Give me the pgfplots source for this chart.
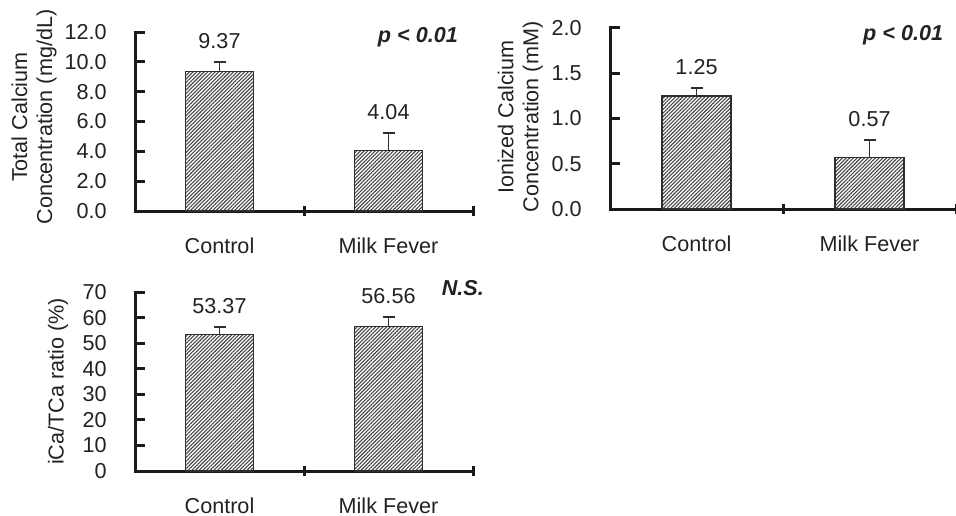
\documentclass[border=0pt]{standalone}
\usepackage{fontspec}
\setmainfont{Liberation Sans}
\usepackage{pgfplots}
\pgfplotsset{compat=1.18}
\usetikzlibrary{patterns.meta}

\definecolor{axc}{HTML}{1A1A1A}
\definecolor{barc}{HTML}{2E2E2E}
\definecolor{hatchc}{HTML}{444444}
\definecolor{txt}{HTML}{222222}

\pgfplotsset{
  capanel/.style={
    scale only axis,
    anchor=south west,
    axis lines*=left,
    axis line style={axc, line width=1.5pt, line cap=rect},
    font=\fontsize{10.8}{12.5}\selectfont,
    every tick label/.append style={txt},
    /pgf/number format/assume math mode=true,
    xmin=0, xmax=2, ymin=0,
    tick align=center,
    major tick length=5pt,
    every tick/.append style={axc, line width=1.5pt},
    every y tick/.append style={xshift=2.5pt},
    xtick={1,2},
    xticklabels={},
    extra x ticks={0.5,1.5},
    extra x tick labels={Control, Milk Fever},
    extra x tick style={major tick length=0pt},
    xticklabel style={anchor=base, inner sep=0pt, yshift=-21pt},
    yticklabel style={anchor=east, inner sep=0pt, xshift=-11.5pt},
    ylabel style={align=center, anchor=center, txt},
    clip=false,
  },
  hbar/.style={
    ybar, bar width=0.4, draw=barc, line width=0.65pt,
    pattern={Lines[angle=45, distance=1.3pt, line width=0.55pt]},
    pattern color=hatchc,
    error bars/y dir=plus, error bars/y explicit,
    error bars/error bar style={barc, line width=0.85pt},
    error bars/error mark options={rotate=90, mark size=3pt, line width=0.9pt, barc},
  },
  vlabels/.style={
    visualization depends on={\thisrow{e}\as\err},
    point meta=y,
    nodes near coords={\pgfmathprintnumber[fixed,fixed zerofill,precision=2]{\pgfplotspointmeta}},
    nodes near coords style={txt, anchor=south, inner sep=0pt,
      shift={(axis direction cs:0,\err)}, yshift=6.5pt,
      font=\fontsize{10.8}{12.5}\selectfont},
  },
}

\pgfplotstableread{
x   y     e
0.5 9.37  0.62
1.5 4.04  1.19
}\tca
\pgfplotstableread{
x   y     e
0.5 1.25  0.087
1.5 0.57  0.19
}\ica
\pgfplotstableread{
x   y     e
0.5 53.37 2.95
1.5 56.56 3.66
}\ratio

\begin{document}
\begin{tikzpicture}
\path[use as bounding box] (0,0) rectangle (478pt,257.5pt);

% Total calcium
\begin{axis}[capanel, at={(67.5pt,152pt)}, width=169pt, height=89.5pt,
  ymax=12, ytick={0,2,...,12},
  yticklabel style={/pgf/number format/.cd, fixed, fixed zerofill, precision=1},
  ylabel={Total Calcium\\Concentration (mg/dL)},
  ylabel style={at={(axis description cs:-0.299,0.525)}},
]
\addplot[hbar, vlabels] table[x=x, y=y, y error=e] {\tca};
\node[anchor=east, txt, font=\fontsize{10.8}{12.5}\selectfont\bfseries\itshape]
  at (rel axis cs:0.976,0.972) {p < 0.01};
\end{axis}

% Ionized calcium
\begin{axis}[capanel, at={(305pt,153pt)}, width=173pt, height=90.5pt,
  ymax=2, ytick={0,0.5,...,2},
  yticklabel style={/pgf/number format/.cd, fixed, fixed zerofill, precision=1},
  ylabel={Ionized Calcium\\Concentration (mM)},
  ylabel style={at={(axis description cs:-0.259,0.508)}},
]
\addplot[hbar, vlabels] table[x=x, y=y, y error=e] {\ica};
\node[anchor=east, txt, font=\fontsize{10.8}{12.5}\selectfont\bfseries\itshape]
  at (rel axis cs:0.983,0.961) {p < 0.01};
\end{axis}

% iCa/TCa ratio
\begin{axis}[capanel, at={(67.5pt,22pt)}, width=169pt, height=89.5pt,
  ymax=70, ytick={0,10,...,70},
  ylabel={iCa/TCa ratio (\%)},
  ylabel style={at={(axis description cs:-0.228,0.5)}},
]
\addplot[hbar, vlabels] table[x=x, y=y, y error=e] {\ratio};
\node[anchor=east, txt, font=\fontsize{10.8}{12.5}\selectfont\bfseries\itshape]
  at (rel axis cs:1.053,1.022) {N.S.};
\end{axis}
\end{tikzpicture}
\end{document}
